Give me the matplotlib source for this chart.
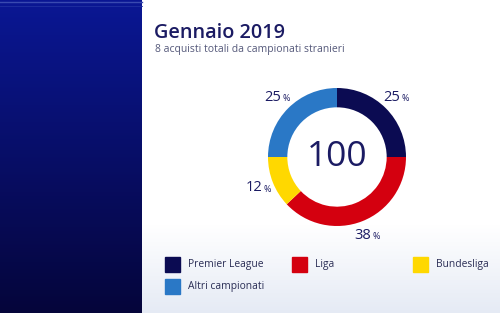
import matplotlib.pyplot as plt
import matplotlib.patches as mpatches
import numpy as np

# data
leagues = ['Premier League', 'Liga', 'Bundesliga', 'Altri campionati']
shares = [25, 38, 12, 25]
colors = ['#0b0b52', '#d4000f', '#ffd800', '#2a78c6']
total_label = '100'
title = 'Gennaio 2019'
subtitle = '8 acquisti totali da campionati stranieri'

navy = '#1b1b63'
plt.rcParams['font.family'] = ['Open Sans', 'DejaVu Sans']

W, H = 500, 313
fig = plt.figure(figsize=(W/100, H/100), dpi=100)

# background in pixel coordinates
bg = fig.add_axes([0, 0, 1, 1])
bg.set_xlim(0, W)
bg.set_ylim(H, 0)
bg.axis('off')
t = np.linspace(0, 1, 200)[:, None]
white = np.array([1.0, 1.0, 1.0])
pale = np.array([0.90, 0.92, 0.96])
fade = np.clip((t - 0.72) / 0.28, 0, 1)
right_grad = white * (1 - fade) + pale * fade
bg.imshow(np.repeat(right_grad[:, None, :], 2, axis=1), extent=[0, W, H, 0], aspect='auto', zorder=0)
top = np.array([0.04, 0.09, 0.58])
bottom = np.array([0.02, 0.02, 0.23])
left_grad = top * (1 - t) + bottom * t
bg.imshow(np.repeat(left_grad[:, None, :], 2, axis=1), extent=[0, 142, H, 0], aspect='auto', zorder=1)
bg.plot([0, 142], [2, 2], color='#3a4ab0', lw=1, zorder=2)
bg.plot([0, 142], [6, 6], color='#2030a0', lw=0.6, zorder=2)

bg.text(154, 38, title, fontsize=14.3, color=navy, fontweight='semibold', va='baseline')
bg.text(155, 52, subtitle, fontsize=7.5, color='#55597a', va='baseline')

# legend
leg_pos = [(165, 257), (292, 257), (413, 257), (165, 279)]
for (x, y), name, c in zip(leg_pos, leagues, colors):
    bg.add_patch(mpatches.Rectangle((x, y), 15, 15, color=c, zorder=3))
    bg.text(x + 23, y + 7.5, name, fontsize=7.4, color='#2a2d55', va='center')

# donut
cx, cy, r = 337, 157, 69
span = 1.45
ax = fig.add_axes([(cx - r*span)/W, (H - cy - r*span)/H, 2*r*span/W, 2*r*span/H])
wedges, _ = ax.pie(shares, colors=colors, startangle=90, counterclock=False,
                   radius=1, wedgeprops=dict(width=0.28, linewidth=0))
ax.set_xlim(-span, span)
ax.set_ylim(-span, span)
ax.set_aspect('equal')
ax.axis('off')
ax.text(0, 0, total_label, fontsize=25.5, color=navy, fontweight='medium', ha='center', va='center')

for w, s in zip(wedges, shares):
    a = np.deg2rad((w.theta1 + w.theta2) / 2)
    x, y = 1.22*np.cos(a), 1.22*np.sin(a)
    ax.text(x + 0.05, y, str(s), fontsize=10.5, color=navy, ha='right', va='center')
    ax.text(x + 0.07, y - 0.02, '%', fontsize=6.5, color=navy, ha='left', va='center')

fig.savefig('out.png', dpi=100)
